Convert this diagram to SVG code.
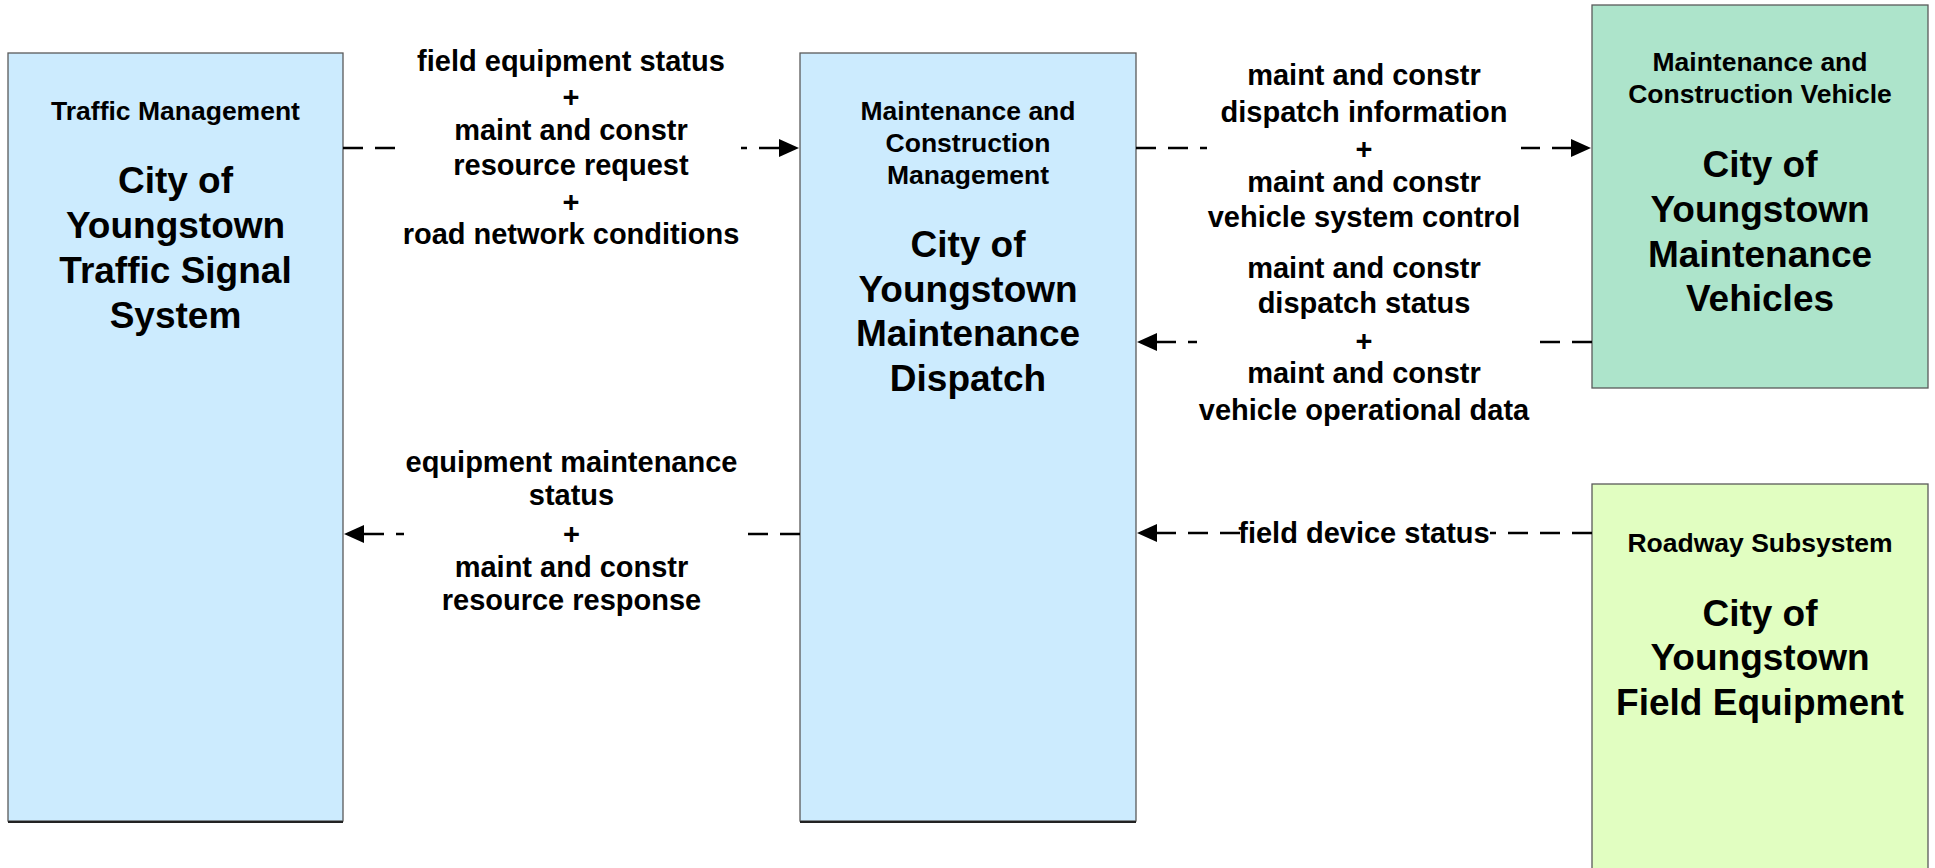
<svg xmlns="http://www.w3.org/2000/svg" width="1935" height="868" viewBox="0 0 1935 868">
<defs>
<style>
text{font-family:"Liberation Sans",Arial,sans-serif;font-weight:bold;fill:#000;text-anchor:middle}
.small{font-size:26.5px}
.big{font-size:37px}
.lbl{font-size:29px}
.box{stroke:#5a5a5a;stroke-width:1.3}
.blue{fill:#CCEBFE}
.green{fill:#ADE4CB}
.lime{fill:#E1FEC1}
.shadow{stroke:#222;stroke-width:2}
.conn{fill:none;stroke:#000;stroke-width:2.3;stroke-dasharray:20 12;marker-end:url(#arrow)}
.bg{fill:#fff}
</style>
<marker id="arrow" markerWidth="20" markerHeight="18" refX="0" refY="9" orient="auto" markerUnits="userSpaceOnUse">
<path d="M0,0 L20,9 L0,18 z" fill="#000"/>
</marker>
</defs>
<rect width="1935" height="868" fill="#fff"/>

<g id="traffic-signal-system">
<rect class="box blue" x="8" y="53" width="335" height="768"/>
<line class="shadow" x1="8" y1="822" x2="343" y2="822"/>
<text class="small" x="175.5" y="120">Traffic Management</text>
<text class="big" x="175.5" y="193">City of</text>
<text class="big" x="175.5" y="238">Youngstown</text>
<text class="big" x="175.5" y="283">Traffic Signal</text>
<text class="big" x="175.5" y="328">System</text>
</g>

<g id="maintenance-dispatch">
<rect class="box blue" x="800" y="53" width="336" height="768"/>
<line class="shadow" x1="800" y1="822" x2="1136" y2="822"/>
<text class="small" x="968" y="120">Maintenance and</text>
<text class="small" x="968" y="152">Construction</text>
<text class="small" x="968" y="184">Management</text>
<text class="big" x="968" y="257">City of</text>
<text class="big" x="968" y="302">Youngstown</text>
<text class="big" x="968" y="346">Maintenance</text>
<text class="big" x="968" y="391">Dispatch</text>
</g>

<g id="maintenance-vehicles">
<rect class="box green" x="1592" y="5" width="336" height="383"/>
<text class="small" x="1760" y="71">Maintenance and</text>
<text class="small" x="1760" y="103">Construction Vehicle</text>
<text class="big" x="1760" y="177">City of</text>
<text class="big" x="1760" y="222">Youngstown</text>
<text class="big" x="1760" y="267">Maintenance</text>
<text class="big" x="1760" y="311">Vehicles</text>
</g>

<g id="field-equipment">
<rect class="box lime" x="1592" y="484" width="336" height="400"/>
<text class="small" x="1760" y="552">Roadway Subsystem</text>
<text class="big" x="1760" y="626">City of</text>
<text class="big" x="1760" y="670">Youngstown</text>
<text class="big" x="1760" y="715">Field Equipment</text>
</g>

<g id="connectors">
<path class="conn" d="M343,148 H779"/>
<path class="conn" d="M1136,148 H1571"/>
<path class="conn" d="M1592,342 H1157"/>
<path class="conn" d="M800,534 H364"/>
<path class="conn" d="M1592,533 H1157"/>

<rect class="bg" x="401" y="45" width="340" height="208"/>
<text class="lbl" x="571" y="71">field equipment status</text>
<text class="lbl" x="571" y="107">+</text>
<text class="lbl" x="571" y="140">maint and constr</text>
<text class="lbl" x="571" y="175">resource request</text>
<text class="lbl" x="571" y="212">+</text>
<text class="lbl" x="571" y="244">road network conditions</text>

<rect class="bg" x="1207" y="58" width="314" height="178"/>
<text class="lbl" x="1364" y="85">maint and constr</text>
<text class="lbl" x="1364" y="122">dispatch information</text>
<text class="lbl" x="1364" y="159">+</text>
<text class="lbl" x="1364" y="192">maint and constr</text>
<text class="lbl" x="1364" y="227">vehicle system control</text>

<rect class="bg" x="1197" y="254" width="333" height="174"/>
<text class="lbl" x="1364" y="278">maint and constr</text>
<text class="lbl" x="1364" y="313">dispatch status</text>
<text class="lbl" x="1364" y="351">+</text>
<text class="lbl" x="1364" y="383">maint and constr</text>
<text class="lbl" x="1364" y="420">vehicle operational data</text>

<rect class="bg" x="404" y="448" width="335" height="170"/>
<text class="lbl" x="571.5" y="472">equipment maintenance</text>
<text class="lbl" x="571.5" y="505">status</text>
<text class="lbl" x="571.5" y="544">+</text>
<text class="lbl" x="571.5" y="577">maint and constr</text>
<text class="lbl" x="571.5" y="610">resource response</text>

<rect class="bg" x="1241" y="515" width="249" height="35"/>
<text class="lbl" x="1364" y="543">field device status</text>
</g>
</svg>
